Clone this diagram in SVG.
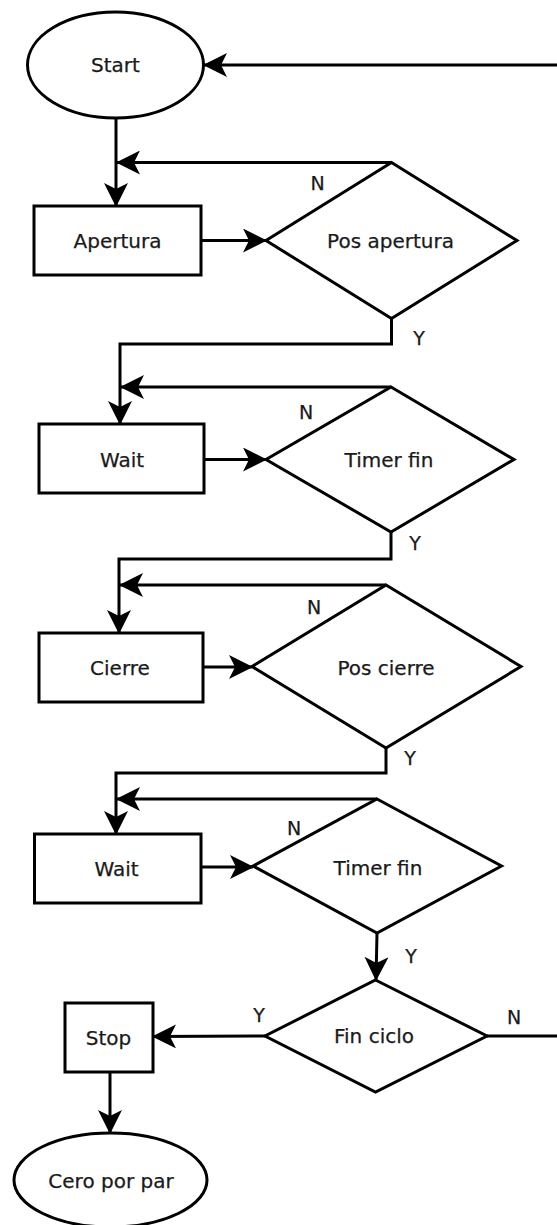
<svg xmlns="http://www.w3.org/2000/svg" width="557" height="1225" viewBox="0 0 557 1225">
<style>
.shape{fill:#fff;stroke:#000;stroke-width:3}
.conn{fill:none;stroke:#000;stroke-width:3}
.t{font-family:"DejaVu Sans","Liberation Sans",sans-serif;font-size:20px;fill:#1a1a1a;stroke:#1a1a1a;stroke-width:0.25;text-anchor:middle}
.lbl{font-family:"DejaVu Sans","Liberation Sans",sans-serif;font-size:19px;fill:#1a1a1a;stroke:#1a1a1a;stroke-width:0.25;text-anchor:middle}
</style>
<defs>
<marker id="arr" viewBox="0 0 24 24" refX="23" refY="12" markerWidth="24" markerHeight="24" markerUnits="userSpaceOnUse" orient="auto">
<path d="M24,12 L0,0 L6,12 L0,24 Z" fill="#000"/>
</marker>
</defs>
<rect width="557" height="1225" fill="#fff"/>
<g id="connectors">
<line class="conn" x1="562" y1="65" x2="204" y2="65" marker-end="url(#arr)"/>
<line class="conn" x1="116" y1="118" x2="116" y2="206" marker-end="url(#arr)"/>
<line class="conn" x1="391.5" y1="162.5" x2="117" y2="162.5" marker-end="url(#arr)"/>
<line class="conn" x1="201" y1="240.5" x2="266" y2="240.5" marker-end="url(#arr)"/>
<polyline class="conn" points="391.5,318.5 391.5,344 120,344 120,424" marker-end="url(#arr)"/>
<line class="conn" x1="391" y1="387" x2="121" y2="387" marker-end="url(#arr)"/>
<line class="conn" x1="204" y1="459.5" x2="266" y2="459.5" marker-end="url(#arr)"/>
<polyline class="conn" points="391,532 391,559 119,559 119,633" marker-end="url(#arr)"/>
<line class="conn" x1="386" y1="585" x2="120" y2="585" marker-end="url(#arr)"/>
<line class="conn" x1="203" y1="667" x2="252" y2="667" marker-end="url(#arr)"/>
<polyline class="conn" points="386,748 386,773 116,773 116,834" marker-end="url(#arr)"/>
<line class="conn" x1="377" y1="799" x2="117" y2="799" marker-end="url(#arr)"/>
<line class="conn" x1="201" y1="867" x2="253" y2="867" marker-end="url(#arr)"/>
<line class="conn" x1="377" y1="933" x2="376" y2="980" marker-end="url(#arr)"/>
<line class="conn" x1="265" y1="1036" x2="153" y2="1036.5" marker-end="url(#arr)"/>
<line class="conn" x1="487" y1="1036" x2="562" y2="1036"/>
<line class="conn" x1="110" y1="1072" x2="110" y2="1133" marker-end="url(#arr)"/>
<text class="lbl" x="317.5" y="190">N</text>
<text class="lbl" x="419" y="345">Y</text>
<text class="lbl" x="306" y="419">N</text>
<text class="lbl" x="415" y="550">Y</text>
<text class="lbl" x="314" y="614">N</text>
<text class="lbl" x="410" y="765">Y</text>
<text class="lbl" x="294" y="835">N</text>
<text class="lbl" x="411" y="963">Y</text>
<text class="lbl" x="259" y="1022">Y</text>
<text class="lbl" x="514" y="1024">N</text>
</g>
<g id="start">
<ellipse class="shape" cx="115.5" cy="65" rx="88" ry="53"/>
<text class="t" x="115.5" y="72">Start</text>
</g>
<g id="apertura">
<rect class="shape" x="34" y="206" width="167" height="69"/>
<text class="t" x="117.5" y="247.5">Apertura</text>
</g>
<g id="pos-apertura">
<polygon class="shape" points="391.5,162.5 517,240.5 391.5,318.5 266,240.5"/>
<text class="t" x="390.5" y="248">Pos apertura</text>
</g>
<g id="wait1">
<rect class="shape" x="39" y="424" width="165" height="69"/>
<text class="t" x="122" y="467">Wait</text>
</g>
<g id="timer-fin1">
<polygon class="shape" points="391,387 514,459.5 391,532 266,459.5"/>
<text class="t" x="389" y="467">Timer fin</text>
</g>
<g id="cierre">
<rect class="shape" x="39" y="633" width="164" height="69"/>
<text class="t" x="120" y="675">Cierre</text>
</g>
<g id="pos-cierre">
<polygon class="shape" points="386,585 521,666.5 386,748 252,666.5"/>
<text class="t" x="386" y="675">Pos cierre</text>
</g>
<g id="wait2">
<rect class="shape" x="34.5" y="834" width="166.5" height="69"/>
<text class="t" x="116.5" y="876">Wait</text>
</g>
<g id="timer-fin2">
<polygon class="shape" points="377,799 501.5,866 377,933 253,866"/>
<text class="t" x="378" y="875">Timer fin</text>
</g>
<g id="fin-ciclo">
<polygon class="shape" points="375.5,980 487,1036 375.5,1092 265,1036"/>
<text class="t" x="374" y="1043">Fin ciclo</text>
</g>
<g id="stop">
<rect class="shape" x="65" y="1003" width="88" height="69"/>
<text class="t" x="108.5" y="1045">Stop</text>
</g>
<g id="cero-por-par">
<ellipse class="shape" cx="110.5" cy="1180" rx="96.5" ry="47"/>
<text class="t" x="111" y="1188">Cero por par</text>
</g>
</svg>
